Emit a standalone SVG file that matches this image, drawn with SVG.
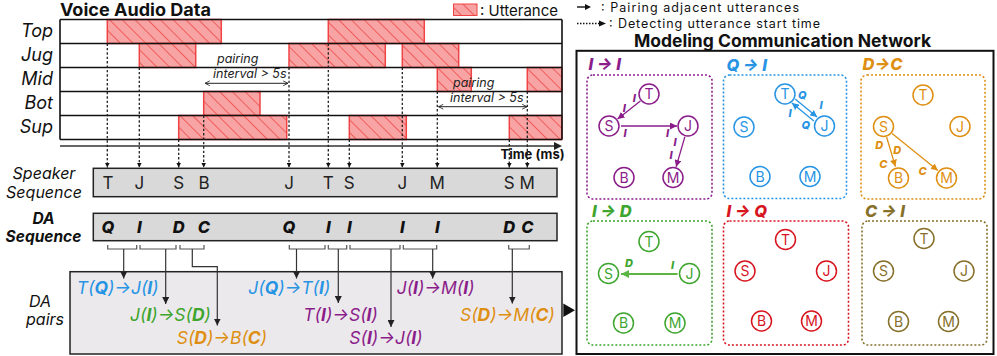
<svg xmlns="http://www.w3.org/2000/svg" width="997" height="356" viewBox="0 0 997 356">
<defs>
<pattern id="hatch" patternUnits="userSpaceOnUse" width="9" height="9" patternTransform="rotate(-45)">
<rect width="9" height="9" fill="#f8a4a4"/>
<line x1="0" y1="0" x2="0" y2="9" stroke="#f04a4a" stroke-width="1.6"/>
</pattern>
<marker id="mDot" viewBox="0 0 10 10" refX="10" refY="5" markerWidth="5" markerHeight="5" markerUnits="userSpaceOnUse" orient="auto"><path d="M0,0 L10,5 L0,10 z" fill="#111"/></marker>
<marker id="mBlk" viewBox="0 0 10 10" refX="10" refY="5" markerWidth="7" markerHeight="7" markerUnits="userSpaceOnUse" orient="auto"><path d="M0,0 L10,5 L0,10 z" fill="#222"/></marker>
<marker id="mOpen" viewBox="0 0 10 10" refX="9" refY="5" markerWidth="6" markerHeight="6" markerUnits="userSpaceOnUse" orient="auto-start-reverse"><path d="M1,1 L9,5 L1,9" fill="none" stroke="#222" stroke-width="1.4"/></marker>
<marker id="mPur" viewBox="0 0 10 10" refX="10" refY="5" markerWidth="7" markerHeight="7" markerUnits="userSpaceOnUse" orient="auto"><path d="M0,0 L10,5 L0,10 z" fill="#8a1d8a"/></marker>
<marker id="mBlu" viewBox="0 0 10 10" refX="10" refY="5" markerWidth="7" markerHeight="7" markerUnits="userSpaceOnUse" orient="auto"><path d="M0,0 L10,5 L0,10 z" fill="#2794e4"/></marker>
<marker id="mOra" viewBox="0 0 10 10" refX="10" refY="5" markerWidth="7" markerHeight="7" markerUnits="userSpaceOnUse" orient="auto"><path d="M0,0 L10,5 L0,10 z" fill="#de8f12"/></marker>
<marker id="mGrn" viewBox="0 0 10 10" refX="10" refY="5" markerWidth="8" markerHeight="8" markerUnits="userSpaceOnUse" orient="auto"><path d="M0,0 L10,5 L0,10 z" fill="#5cb443"/></marker>
<style>
text{font-family:Inter,"Liberation Sans",sans-serif;}
.ttl{font-size:17px;font-weight:700;fill:#111;}
.rowlab{font-size:18px;font-style:italic;text-anchor:end;fill:#111;}
.side{font-size:16px;font-style:italic;text-anchor:middle;fill:#111;}
.sideb{font-size:15.5px;font-style:italic;font-weight:700;text-anchor:middle;fill:#111;}
.spk{font-size:17px;text-anchor:middle;fill:#222;}
.da{font-size:16.5px;font-style:italic;font-weight:800;text-anchor:middle;fill:#111;}
.pair{font-size:17.5px;font-style:italic;}
.pair tspan{font-weight:700;}
.leg{font-size:12.5px;fill:#111;}
.pi{font-size:12.5px;font-style:italic;fill:#222;}
.blk{fill:url(#hatch);stroke:#f04444;stroke-width:1.5;}
.grid{stroke:#111;stroke-width:1.6;fill:none;}
.dash{stroke:#222;stroke-width:1.3;stroke-dasharray:2.4 2;fill:none;marker-end:url(#mDot);}
.brk{stroke:#555;stroke-width:1.2;fill:none;}
.darr{stroke:#333;stroke-width:1.2;fill:none;marker-end:url(#mBlk);}
.seqbox{fill:#d9d9d9;stroke:#222;stroke-width:1.5;}
.panel{fill:none;stroke-width:1.6;stroke-dasharray:2 2;}
.ptitle{font-size:16.5px;font-style:italic;font-weight:800;}
.nd circle{fill:#fff;stroke-width:1.5;}
.nd text{font-size:14px;text-anchor:middle;}
.el{font-size:11px;font-style:italic;font-weight:800;text-anchor:middle;}
.pur{fill:#8a1d8a;stroke:#8a1d8a;}
.blu{fill:#2794e4;stroke:#2794e4;}
.ora{fill:#de8f12;stroke:#de8f12;}
.grn{fill:#3ea52e;stroke:#3ea52e;}
.red{fill:#d7141e;stroke:#d7141e;}
.olv{fill:#86702a;stroke:#86702a;}
text.pur,text.blu,text.ora,text.grn,text.red,text.olv,.nd text{stroke:none;}
</style>
</defs>
<rect width="997" height="356" fill="#fff"/>

<g id="voice-audio">
<text x="60" y="16" class="ttl" textLength="151" lengthAdjust="spacingAndGlyphs">Voice Audio Data</text>
<text x="53" y="37" class="rowlab">Top</text>
<text x="53" y="61" class="rowlab">Jug</text>
<text x="53" y="85" class="rowlab">Mid</text>
<text x="53" y="109" class="rowlab">Bot</text>
<text x="53" y="133" class="rowlab">Sup</text>
<rect x="60" y="19.5" width="502" height="120" fill="#fff"/>
<rect class="blk" x="107.3" y="19.5" width="114" height="24"/>
<rect class="blk" x="328.3" y="19.5" width="96" height="24"/>
<rect class="blk" x="139.3" y="43.5" width="56.4" height="24"/>
<rect class="blk" x="289" y="43.5" width="96.3" height="24"/>
<rect class="blk" x="402.3" y="43.5" width="56.4" height="24"/>
<rect class="blk" x="437.3" y="67.5" width="34" height="24"/>
<rect class="blk" x="527.3" y="67.5" width="34.5" height="24"/>
<rect class="blk" x="203.7" y="91.5" width="56.3" height="24"/>
<rect class="blk" x="178.7" y="115.5" width="108" height="24"/>
<rect class="blk" x="349.3" y="115.5" width="57" height="24"/>
<rect class="blk" x="509.3" y="115.5" width="52.5" height="24"/>
<path class="grid" d="M60,19.5 H562 M60,43.5 H562 M60,67.5 H562 M60,91.5 H562 M60,115.5 H562 M60,139.5 H562 M60,19.5 V139.5 M562,19.5 V139.5"/>
<line x1="60" y1="146" x2="555" y2="146" stroke="#333" stroke-width="1.6"/>
<path d="M562,146 L554,142 L554,150 z" fill="#222"/>
<text x="500.5" y="158.5" font-size="13" font-weight="700" fill="#111">Time (ms)</text>
<text x="217" y="63" class="pi">pairing</text>
<text x="213" y="78" class="pi">interval &gt; 5s</text>
<text x="453" y="87" class="pi">pairing</text>
<text x="450" y="102" class="pi">interval &gt; 5s</text>
</g>

<g id="legend">
<rect x="453.5" y="4" width="23.5" height="11.5" fill="url(#hatch)" stroke="#f04444" stroke-width="1"/>
<text x="480" y="16" font-size="15" fill="#111">: Utterance</text>
<line x1="577" y1="7" x2="586" y2="7" stroke="#111" stroke-width="1.4"/>
<path d="M591,7 L585,4 L585,10 z" fill="#111"/>
<text x="601" y="12" class="leg" textLength="198" lengthAdjust="spacing">: Pairing adjacent utterances</text>
<line x1="577" y1="23.5" x2="599" y2="23.5" stroke="#111" stroke-width="1.3" stroke-dasharray="1.5 1.5"/>
<path d="M606,23.5 L599,20.5 L599,26.5 z" fill="#111"/>
<text x="609" y="27.5" class="leg" textLength="211" lengthAdjust="spacing">: Detecting utterance start time</text>
</g>

<g id="speaker-sequence">
<text x="44" y="179" class="side">Speaker</text>
<text x="44" y="197.5" class="side">Sequence</text>
<rect class="seqbox" x="93.3" y="168.3" width="463.7" height="28.4"/>
<text x="108" y="189.3" class="spk">T</text>
<text x="139.3" y="189.3" class="spk">J</text>
<text x="178.7" y="189.3" class="spk">S</text>
<text x="204" y="189.3" class="spk">B</text>
<text x="289" y="189.3" class="spk">J</text>
<text x="328.3" y="189.3" class="spk">T</text>
<text x="349.3" y="189.3" class="spk">S</text>
<text x="402.3" y="189.3" class="spk">J</text>
<text x="437.3" y="189.3" class="spk">M</text>
<text x="509.3" y="189.3" class="spk">S</text>
<text x="527.3" y="189.3" class="spk">M</text>
</g>

<g id="da-sequence">
<text x="43.5" y="223.5" class="sideb">DA</text>
<text x="43.5" y="242" class="sideb">Sequence</text>
<rect class="seqbox" x="93.3" y="213.3" width="463.7" height="27.4"/>
<text x="108" y="233.3" class="da">Q</text>
<text x="139.3" y="233.3" class="da">I</text>
<text x="178.7" y="233.3" class="da">D</text>
<text x="204" y="233.3" class="da">C</text>
<text x="289" y="233.3" class="da">Q</text>
<text x="328.3" y="233.3" class="da">I</text>
<text x="349.3" y="233.3" class="da">I</text>
<text x="402.3" y="233.3" class="da">I</text>
<text x="437.3" y="233.3" class="da">I</text>
<text x="509.3" y="233.3" class="da">D</text>
<text x="527.3" y="233.3" class="da">C</text>
</g>

<g id="da-pairs">
<rect x="70" y="271.7" width="492" height="82.3" fill="#ece9ec" stroke="#222" stroke-width="1.5"/>
<text x="40" y="306.5" class="side">DA</text>
<text x="45" y="325" class="side">pairs</text>
<text x="76.7" y="294" class="pair" fill="#2794e4">T(<tspan>Q</tspan>)→J(<tspan>I</tspan>)</text>
<text x="130" y="320.7" class="pair" fill="#3ea52e">J(<tspan>I</tspan>)→S(<tspan>D</tspan>)</text>
<text x="176.7" y="344.3" class="pair" fill="#de8f12">S(<tspan>D</tspan>)→B(<tspan>C</tspan>)</text>
<text x="248.3" y="294" class="pair" fill="#2794e4">J(<tspan>Q</tspan>)→T(<tspan>I</tspan>)</text>
<text x="303.3" y="320.7" class="pair" fill="#8a1d8a">T(<tspan>I</tspan>)→S(<tspan>I</tspan>)</text>
<text x="349.3" y="344.3" class="pair" fill="#8a1d8a">S(<tspan>I</tspan>)→J(<tspan>I</tspan>)</text>
<text x="396.7" y="294" class="pair" fill="#8a1d8a">J(<tspan>I</tspan>)→M(<tspan>I</tspan>)</text>
<text x="460" y="320.7" class="pair" fill="#de8f12">S(<tspan>D</tspan>)→M(<tspan>C</tspan>)</text>
</g>

<g id="network">
<rect x="576.5" y="50.8" width="417" height="303.2" fill="#fff" stroke="#111" stroke-width="2"/>
<text x="782.5" y="46.5" font-size="17.5" font-weight="700" text-anchor="middle" fill="#111">Modeling Communication Network</text>
</g>

<g id="panel-II">
<rect class="panel pur" x="587" y="75" width="125" height="124" rx="6" style="fill:none"/>
<text x="588.5" y="70" class="ptitle pur">I → I</text>
<g class="nd pur"><circle cx="649" cy="94" r="10" style="fill:#fff"/><text x="649" y="99">T</text></g>
<g class="nd pur"><circle cx="609" cy="126" r="10" style="fill:#fff"/><text x="609" y="131">S</text></g>
<g class="nd pur"><circle cx="688" cy="126" r="10" style="fill:#fff"/><text x="688" y="131">J</text></g>
<g class="nd pur"><circle cx="624" cy="177.5" r="10" style="fill:#fff"/><text x="624" y="182.5">B</text></g>
<g class="nd pur"><circle cx="673" cy="177.5" r="10" style="fill:#fff"/><text x="673" y="182.5">M</text></g>
</g>

<g id="panel-QI">
<rect class="panel blu" x="723.5" y="75" width="123" height="123.5" rx="6" style="fill:none"/>
<text x="726.5" y="70.5" class="ptitle blu">Q → I</text>
<g class="nd blu"><circle cx="785" cy="94" r="10" style="fill:#fff"/><text x="785" y="99">T</text></g>
<g class="nd blu"><circle cx="744" cy="127" r="10" style="fill:#fff"/><text x="744" y="132">S</text></g>
<g class="nd blu"><circle cx="824.5" cy="126" r="10" style="fill:#fff"/><text x="824.5" y="131">J</text></g>
<g class="nd blu"><circle cx="760" cy="176.5" r="10" style="fill:#fff"/><text x="760" y="181.5">B</text></g>
<g class="nd blu"><circle cx="810" cy="176.5" r="10" style="fill:#fff"/><text x="810" y="181.5">M</text></g>
</g>

<g id="panel-DC">
<rect class="panel ora" x="861" y="75" width="124" height="124" rx="6" style="fill:none"/>
<text x="862.5" y="70" class="ptitle ora">D→C</text>
<g class="nd ora"><circle cx="923" cy="95" r="10" style="fill:#fff"/><text x="923" y="100">T</text></g>
<g class="nd ora"><circle cx="883.5" cy="126.5" r="10" style="fill:#fff"/><text x="883.5" y="131.5">S</text></g>
<g class="nd ora"><circle cx="960" cy="126.5" r="10" style="fill:#fff"/><text x="960" y="131.5">J</text></g>
<g class="nd ora"><circle cx="898.5" cy="178" r="10" style="fill:#fff"/><text x="898.5" y="183">B</text></g>
<g class="nd ora"><circle cx="946.5" cy="178" r="10" style="fill:#fff"/><text x="946.5" y="183">M</text></g>
</g>

<g id="panel-ID">
<rect class="panel grn" x="587" y="221" width="125" height="124" rx="6" style="fill:none"/>
<text x="592" y="216.5" class="ptitle grn">I → D</text>
<g class="nd grn"><circle cx="649" cy="241.5" r="10" style="fill:#fff"/><text x="649" y="246.5">T</text></g>
<g class="nd grn"><circle cx="608.5" cy="273.5" r="10" style="fill:#fff"/><text x="608.5" y="278.5">S</text></g>
<g class="nd grn"><circle cx="689.5" cy="273.5" r="10" style="fill:#fff"/><text x="689.5" y="278.5">J</text></g>
<g class="nd grn"><circle cx="623.5" cy="323" r="10" style="fill:#fff"/><text x="623.5" y="328">B</text></g>
<g class="nd grn"><circle cx="675" cy="323" r="10" style="fill:#fff"/><text x="675" y="328">M</text></g>
</g>

<g id="panel-IQ">
<rect class="panel red" x="723.5" y="221" width="125" height="124" rx="6" style="fill:none"/>
<text x="726.5" y="216.5" class="ptitle red">I → Q</text>
<g class="nd red"><circle cx="785.5" cy="239.5" r="10" style="fill:#fff"/><text x="785.5" y="244.5">T</text></g>
<g class="nd red"><circle cx="745" cy="271" r="10" style="fill:#fff"/><text x="745" y="276">S</text></g>
<g class="nd red"><circle cx="826.5" cy="271" r="10" style="fill:#fff"/><text x="826.5" y="276">J</text></g>
<g class="nd red"><circle cx="761.5" cy="321" r="10" style="fill:#fff"/><text x="761.5" y="326">B</text></g>
<g class="nd red"><circle cx="811.5" cy="321" r="10" style="fill:#fff"/><text x="811.5" y="326">M</text></g>
</g>

<g id="panel-CI">
<rect class="panel olv" x="862" y="221" width="125" height="124" rx="6" style="fill:none"/>
<text x="865" y="216.5" class="ptitle olv">C → I</text>
<g class="nd olv"><circle cx="924" cy="238.5" r="10" style="fill:#fff"/><text x="924" y="243.5">T</text></g>
<g class="nd olv"><circle cx="883.5" cy="271" r="10" style="fill:#fff"/><text x="883.5" y="276">S</text></g>
<g class="nd olv"><circle cx="964" cy="271" r="10" style="fill:#fff"/><text x="964" y="276">J</text></g>
<g class="nd olv"><circle cx="898.5" cy="321.5" r="10" style="fill:#fff"/><text x="898.5" y="326.5">B</text></g>
<g class="nd olv"><circle cx="948.5" cy="321.5" r="10" style="fill:#fff"/><text x="948.5" y="326.5">M</text></g>
</g>

<g id="connectors">
<path class="dash" d="M107.3,43.5 V167.5"/>
<path class="dash" d="M139.3,67.5 V167.5"/>
<path class="dash" d="M178.7,139.5 V167.5"/>
<path class="dash" d="M203.7,115.5 V167.5"/>
<path class="dash" d="M289,67.5 V167.5"/>
<path class="dash" d="M328.3,43.5 V167.5"/>
<path class="dash" d="M349.3,139.5 V167.5"/>
<path class="dash" d="M402.3,67.5 V167.5"/>
<path class="dash" d="M437.3,91.5 V167.5"/>
<path class="dash" d="M509.3,139.5 V167.5"/>
<path class="dash" d="M527.3,91.5 V167.5"/>
<line x1="205" y1="83.3" x2="288" y2="83.3" stroke="#222" stroke-width="1" marker-start="url(#mOpen)" marker-end="url(#mOpen)"/>
<line x1="438.5" y1="106.7" x2="527" y2="106.7" stroke="#222" stroke-width="1" marker-start="url(#mOpen)" marker-end="url(#mOpen)"/>
<path class="brk" d="M107.7,245 V249 H136.7 V245 M140,245 V249 H176 V245 M180,245 V249 H204 V245 M289.3,245 V249 H325 V245 M328.3,245 V249 H346.7 V245 M350,245 V249 H400 V245 M403.3,245 V249 H436.7 V245 M508.7,245 V249 H529.3 V245"/>
<path class="darr" d="M123.7,249 V278.5"/>
<path class="darr" d="M165.7,249 V304"/>
<path class="darr" d="M192.3,249 V266.7 H217.3 V325.5"/>
<path class="darr" d="M296.5,249 V278.5"/>
<path class="darr" d="M338.3,249 V303"/>
<path class="darr" d="M391,249 V327"/>
<path class="darr" d="M432.7,249 V278.5"/>
<path class="darr" d="M512.3,249 V303.5"/>
<path d="M563.3,303.5 L575,310.3 L563.3,317 z" fill="#111"/>
<line x1="640.4" y1="100.9" x2="617.6" y2="119.1" stroke="#8a1d8a" stroke-width="1.3" marker-end="url(#mPur)"/>
<line x1="621" y1="126" x2="677" y2="126" stroke="#8a1d8a" stroke-width="1.3" marker-end="url(#mPur)"/>
<line x1="684.9" y1="136.6" x2="676.1" y2="166.9" stroke="#8a1d8a" stroke-width="1.3" marker-end="url(#mPur)"/>
<text x="634.3" y="102.3" class="el pur">I</text>
<text x="624.3" y="112.3" class="el pur">I</text>
<text x="625" y="137.3" class="el pur">I</text>
<text x="667.7" y="137" class="el pur">I</text>
<text x="675" y="145.7" class="el pur">I</text>
<text x="671" y="159" class="el pur">I</text>
<line x1="795.1" y1="99.1" x2="817.1" y2="117.1" stroke="#2794e4" stroke-width="1.3" marker-end="url(#mBlu)"/>
<line x1="813.9" y1="120.9" x2="791.9" y2="102.9" stroke="#2794e4" stroke-width="1.3" marker-end="url(#mBlu)"/>
<text x="802.3" y="99" class="el blu">Q</text>
<text x="821" y="109" class="el blu">I</text>
<text x="790" y="117.3" class="el blu">I</text>
<text x="805.7" y="129" class="el blu">Q</text>
<line x1="886.6" y1="137" x2="895.4" y2="166.6" stroke="#de8f12" stroke-width="1.3" marker-end="url(#mOra)"/>
<line x1="892.1" y1="133.4" x2="937.9" y2="170.6" stroke="#de8f12" stroke-width="1.3" marker-end="url(#mOra)"/>
<text x="879.3" y="149" class="el ora">D</text>
<text x="883.3" y="168.3" class="el ora">C</text>
<text x="897.3" y="154" class="el ora">D</text>
<text x="922.7" y="175" class="el ora">C</text>
<line x1="677.5" y1="274" x2="621" y2="274" stroke="#5cb443" stroke-width="2.2" marker-end="url(#mGrn)"/>
<text x="629" y="267.3" class="el grn">D</text>
<text x="672.7" y="269" class="el grn">I</text>
</g>
</svg>
